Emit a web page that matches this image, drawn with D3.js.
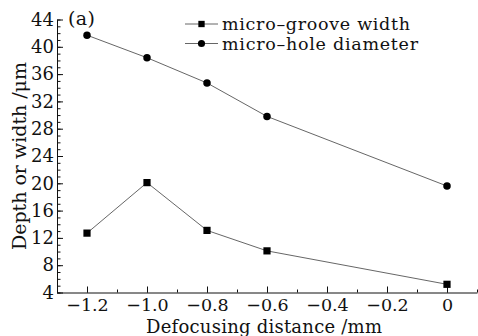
<!DOCTYPE html>
<html>
<head>
<meta charset="utf-8">
<script src="https://cdn.jsdelivr.net/npm/d3@7"></script>
<style>
  body { margin: 0; background: #fff; }
  text { font-family: "DejaVu Serif", serif; fill: #111; }
</style>
</head>
<body>
<script>
// chart size
var width = 478;
var height = 336;

// data
var defocus = [-1.2, -1.0, -0.8, -0.6, 0];
var grooveWidth = [12.7, 20.1, 13.1, 10.1, 5.2];
var holeDiameter = [41.7, 38.4, 34.7, 29.8, 19.6];
var xTicks = [-1.2, -1.0, -0.8, -0.6, -0.4, -0.2, 0];
var yTicks = [4, 8, 12, 16, 20, 24, 28, 32, 36, 40, 44];

var margin = {left: 57, right: 1, top: 19.5, bottom: 43.5};

var x = d3.scaleLinear().domain([-1.3, 0.1]).range([margin.left, width - margin.right]);
var y = d3.scaleLinear().domain([4, 44]).range([height - margin.bottom, margin.top]);

var svg = d3.select('body').append('svg')
  .attr('width', width)
  .attr('height', height);

// minor ticks first
svg.append('g')
  .attr('transform', 'translate(0,' + y(4) + ')')
  .call(d3.axisBottom(x).tickValues(d3.range(-1.3, 0.11, 0.1)).tickSize(-3).tickFormat(''))
  .call(g => g.select('.domain').remove());

svg.append('g')
  .attr('transform', 'translate(' + margin.left + ',0)')
  .call(d3.axisLeft(y).tickValues(d3.range(4, 45, 1)).tickSize(-3.5).tickFormat(''))
  .call(g => g.select('.domain').remove());

// x axis
var xAxis = svg.append('g')
  .attr('transform', 'translate(0,' + y(4) + ')')
  .call(d3.axisBottom(x).tickValues(xTicks).tickSizeInner(-6).tickSizeOuter(0).tickPadding(6)
    .tickFormat(d => d === 0 ? '0' : d3.format('.1f')(d).replace('-', '\u2212')));
xAxis.selectAll('text').attr('font-size', 17.5).attr('font-family', 'DejaVu Serif');

// y axis
var yAxis = svg.append('g')
  .attr('transform', 'translate(' + margin.left + ',0)')
  .call(d3.axisLeft(y).tickValues(yTicks).tickSizeInner(-6).tickSizeOuter(0).tickPadding(3));
yAxis.selectAll('text').attr('font-size', 18).attr('font-family', 'DejaVu Serif');

svg.selectAll('.domain, .tick line').attr('stroke', '#111');

// axis titles
svg.append('text')
  .attr('x', 264)
  .attr('y', 333)
  .attr('text-anchor', 'middle')
  .attr('font-size', 18)
  .attr('textLength', 236)
  .text('Defocusing distance /mm');

svg.append('text')
  .attr('transform', 'translate(26,' + 156 + ') rotate(-90)')
  .attr('text-anchor', 'middle')
  .attr('font-size', 19)
  .attr('textLength', 188)
  .text('Depth or width /\u03bcm');

svg.append('text')
  .attr('x', 68)
  .attr('y', 25)
  .attr('font-size', 19)
  .attr('textLength', 27)
  .text('(a)');

var line = d3.line()
  .x((d, i) => x(defocus[i]))
  .y(d => y(d));

function drawSeries(values, shape) {
  svg.append('path')
    .datum(values)
    .attr('fill', 'none')
    .attr('stroke', '#555')
    .attr('stroke-width', 0.9)
    .attr('d', line);
  var sym = d3.symbol().type(shape).size(shape === d3.symbolSquare ? 52 : 44);
  svg.selectAll(null)
    .data(values)
    .enter().append('path')
    .attr('transform', (d, i) => 'translate(' + x(defocus[i]) + ',' + y(d) + ')')
    .attr('d', sym)
    .attr('fill', '#000');
}

drawSeries(grooveWidth, d3.symbolSquare);
drawSeries(holeDiameter, d3.symbolCircle);

// legend
var legendItems = [
  {name: 'micro\u2013groove width', shape: d3.symbolSquare, y: 24, len: 188},
  {name: 'micro\u2013hole diameter', shape: d3.symbolCircle, y: 43.5, len: 196}
];
var lg = svg.selectAll('.legend')
  .data(legendItems)
  .enter().append('g')
  .attr('class', 'legend')
  .attr('transform', d => 'translate(185,' + d.y + ')');
lg.append('line')
  .attr('x1', 0).attr('x2', 33)
  .attr('stroke', '#555').attr('stroke-width', 0.9);
lg.append('path')
  .attr('transform', 'translate(16.5,0)')
  .attr('d', d => d3.symbol().type(d.shape).size(40)())
  .attr('fill', '#000');
lg.append('text')
  .attr('x', 37)
  .attr('y', 6)
  .attr('font-size', 17.5)
  .attr('textLength', d => d.len)
  .text(d => d.name);
</script>
</body>
</html>
